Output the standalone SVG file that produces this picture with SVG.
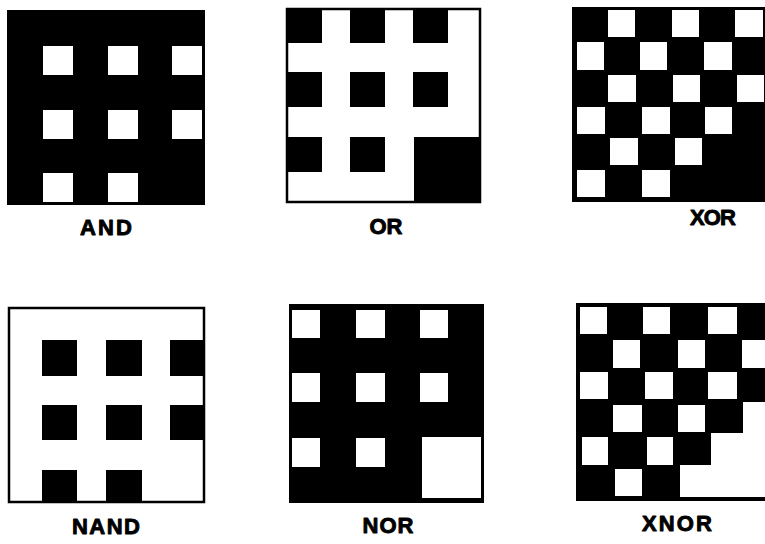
<svg xmlns="http://www.w3.org/2000/svg" width="765" height="544" viewBox="0 0 765 544">
<style>
.b{fill:#000}
.w{fill:#fff}
.frW{fill:#fff;stroke:#000;stroke-width:2.5}
.frB{fill:#000;stroke:#000;stroke-width:2}
.lbl{font-family:"Liberation Sans",Arial,sans-serif;font-weight:bold;font-size:22px;fill:#000;stroke:#000;stroke-width:0.9;stroke-linejoin:round;text-anchor:middle}
</style>
<rect width="765" height="544" fill="#fff"/>

<g id="and">
<rect class="frB" x="8" y="11" width="196" height="193"/>
<rect class="w" x="43" y="46" width="30" height="29"/>
<rect class="w" x="108" y="46" width="30" height="29"/>
<rect class="w" x="172" y="46" width="30" height="29"/>
<rect class="w" x="43" y="110" width="30" height="29"/>
<rect class="w" x="108" y="110" width="30" height="29"/>
<rect class="w" x="172" y="110" width="30" height="29"/>
<rect class="w" x="43" y="173" width="30" height="29"/>
<rect class="w" x="108" y="173" width="30" height="29"/>
<text class="lbl" x="106" y="235" textLength="52" lengthAdjust="spacing">AND</text>
</g>

<g id="or">
<rect class="frW" x="287" y="9" width="193" height="193"/>
<rect class="b" x="287" y="9" width="35" height="34"/>
<rect class="b" x="350" y="9" width="35" height="34"/>
<rect class="b" x="413" y="9" width="35" height="34"/>
<rect class="b" x="287" y="72" width="35" height="35"/>
<rect class="b" x="350" y="72" width="35" height="35"/>
<rect class="b" x="413" y="72" width="35" height="35"/>
<rect class="b" x="287" y="137" width="35" height="35"/>
<rect class="b" x="350" y="137" width="35" height="35"/>
<rect class="b" x="414" y="137" width="67" height="66"/>
<text class="lbl" x="386" y="234" textLength="33" lengthAdjust="spacing">OR</text>
</g>

<g id="xor">
<rect class="frB" x="573" y="8" width="194" height="193"/>
<rect class="w" x="608" y="10" width="27" height="27"/>
<rect class="w" x="672" y="10" width="27" height="27"/>
<rect class="w" x="735" y="10" width="28" height="27"/>
<rect class="w" x="577" y="42" width="27" height="28"/>
<rect class="w" x="640" y="42" width="27" height="28"/>
<rect class="w" x="704" y="42" width="28" height="28"/>
<rect class="w" x="608" y="75" width="28" height="27"/>
<rect class="w" x="673" y="75" width="27" height="27"/>
<rect class="w" x="737" y="75" width="27" height="27"/>
<rect class="w" x="577" y="107" width="28" height="27"/>
<rect class="w" x="642" y="107" width="28" height="27"/>
<rect class="w" x="705" y="107" width="27" height="27"/>
<rect class="w" x="610" y="138" width="28" height="27"/>
<rect class="w" x="675" y="138" width="27" height="27"/>
<rect class="w" x="577" y="170" width="28" height="27"/>
<rect class="w" x="642" y="170" width="28" height="27"/>
<text class="lbl" x="713" y="225" textLength="46" lengthAdjust="spacing">XOR</text>
</g>

<g id="nand">
<rect class="frW" x="9" y="308" width="195" height="194"/>
<rect class="b" x="42" y="340" width="35" height="36"/>
<rect class="b" x="106" y="340" width="36" height="36"/>
<rect class="b" x="170" y="340" width="34" height="36"/>
<rect class="b" x="42" y="405" width="35" height="35"/>
<rect class="b" x="106" y="405" width="36" height="35"/>
<rect class="b" x="170" y="405" width="34" height="35"/>
<rect class="b" x="42" y="470" width="35" height="32"/>
<rect class="b" x="106" y="470" width="36" height="32"/>
<text class="lbl" x="106" y="534" textLength="68" lengthAdjust="spacing">NAND</text>
</g>

<g id="nor">
<rect class="frB" x="290" y="305" width="193" height="197"/>
<rect class="w" x="292" y="310" width="28" height="28"/>
<rect class="w" x="356" y="310" width="29" height="28"/>
<rect class="w" x="420" y="310" width="28" height="28"/>
<rect class="w" x="292" y="373" width="28" height="29"/>
<rect class="w" x="356" y="373" width="29" height="29"/>
<rect class="w" x="420" y="373" width="28" height="29"/>
<rect class="w" x="292" y="438" width="28" height="29"/>
<rect class="w" x="356" y="438" width="29" height="29"/>
<rect class="w" x="422" y="437" width="59" height="61"/>
<text class="lbl" x="388" y="533" textLength="51" lengthAdjust="spacing">NOR</text>
</g>

<g id="xnor">
<rect class="frB" x="577" y="304" width="190" height="196"/>
<rect class="w" x="580" y="307" width="27" height="27"/>
<rect class="w" x="643" y="307" width="27" height="27"/>
<rect class="w" x="708" y="307" width="29" height="27"/>
<rect class="w" x="613" y="340" width="27" height="28"/>
<rect class="w" x="678" y="340" width="27" height="28"/>
<rect class="w" x="742" y="340" width="25" height="28"/>
<rect class="w" x="580" y="372" width="28" height="27"/>
<rect class="w" x="645" y="372" width="28" height="27"/>
<rect class="w" x="708" y="372" width="29" height="27"/>
<rect class="w" x="613" y="405" width="29" height="27"/>
<rect class="w" x="678" y="405" width="27" height="27"/>
<rect class="w" x="582" y="437" width="26" height="28"/>
<rect class="w" x="647" y="437" width="26" height="28"/>
<rect class="w" x="615" y="469" width="27" height="27"/>
<polygon class="w" points="743,402 767,402 767,497 680,497 680,465 711,465 711,433 743,433"/>
<text class="lbl" x="677" y="531" textLength="70" lengthAdjust="spacing">XNOR</text>
</g>
</svg>
